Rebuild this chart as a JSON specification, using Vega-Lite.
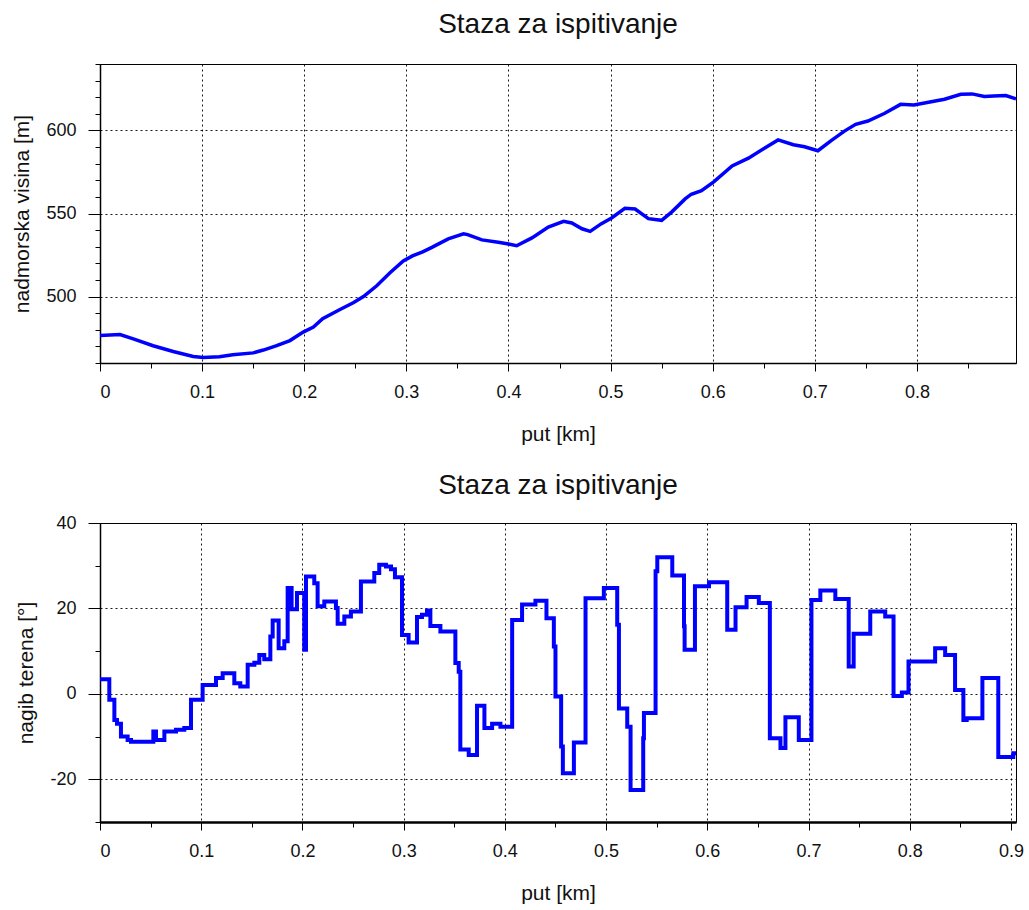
{
  "$schema": "https://vega.github.io/schema/vega-lite/v6.json",
  "background": "white",
  "padding": {"left": 10, "top": 10, "right": 5, "bottom": 5},
  "config": {
    "font": "Liberation Sans",
    "view": {"stroke": "#000", "strokeWidth": 1},
    "axis": {
      "labelFont": "Liberation Sans", "titleFont": "Liberation Sans",
      "labelColor": "#111", "titleColor": "#111",
      "labelFontSize": 18, "titleFontSize": 21, "titleFontWeight": "normal",
      "domainColor": "#000", "tickColor": "#000",
      "gridColor": "#000", "gridDash": [2, 3], "gridWidth": 1, "gridOpacity": 0.9
    },
    "title": {"font": "Liberation Sans", "fontSize": 28, "fontWeight": "normal", "color": "#111"},
    "concat": {"spacing": 26}
  },
  "datasets": {
    "elev": [
      {"km": 0, "h": 476.5}, {"km": 0.0196, "h": 477.1}, {"km": 0.0326, "h": 474.5}, {"km": 0.052, "h": 470.4},
      {"km": 0.0717, "h": 466.9}, {"km": 0.0913, "h": 463.9}, {"km": 0.101, "h": 463.3}, {"km": 0.117, "h": 463.7},
      {"km": 0.13, "h": 464.9}, {"km": 0.15, "h": 466.1}, {"km": 0.16, "h": 467.8}, {"km": 0.173, "h": 470.4},
      {"km": 0.186, "h": 473.5}, {"km": 0.199, "h": 478.6}, {"km": 0.209, "h": 481.6}, {"km": 0.218, "h": 486.7},
      {"km": 0.235, "h": 492.2}, {"km": 0.248, "h": 496.3}, {"km": 0.258, "h": 500}, {"km": 0.271, "h": 506.5},
      {"km": 0.284, "h": 514.3}, {"km": 0.297, "h": 521.5}, {"km": 0.306, "h": 524.5}, {"km": 0.316, "h": 526.9},
      {"km": 0.325, "h": 529.6}, {"km": 0.341, "h": 534.7}, {"km": 0.356, "h": 537.8}, {"km": 0.36, "h": 537.3},
      {"km": 0.374, "h": 534.1}, {"km": 0.39, "h": 532.7}, {"km": 0.4, "h": 531.6}, {"km": 0.408, "h": 530.6},
      {"km": 0.423, "h": 535.3}, {"km": 0.439, "h": 541.8}, {"km": 0.454, "h": 545.3}, {"km": 0.462, "h": 544.3},
      {"km": 0.472, "h": 540.8}, {"km": 0.48, "h": 539.2}, {"km": 0.491, "h": 543.9}, {"km": 0.501, "h": 547.3},
      {"km": 0.514, "h": 553.1}, {"km": 0.524, "h": 552.7}, {"km": 0.537, "h": 546.9}, {"km": 0.55, "h": 545.9},
      {"km": 0.56, "h": 551.0}, {"km": 0.573, "h": 558.8}, {"km": 0.579, "h": 561.6}, {"km": 0.589, "h": 563.7},
      {"km": 0.601, "h": 569.0}, {"km": 0.619, "h": 578.6}, {"km": 0.635, "h": 583.3}, {"km": 0.651, "h": 589.4},
      {"km": 0.664, "h": 594.3}, {"km": 0.679, "h": 591.4}, {"km": 0.69, "h": 590.2}, {"km": 0.703, "h": 587.8},
      {"km": 0.716, "h": 593.9}, {"km": 0.729, "h": 599.6}, {"km": 0.74, "h": 603.7}, {"km": 0.752, "h": 605.7},
      {"km": 0.768, "h": 610.2}, {"km": 0.784, "h": 615.7}, {"km": 0.797, "h": 615.3}, {"km": 0.814, "h": 617.3},
      {"km": 0.827, "h": 618.8}, {"km": 0.843, "h": 621.8}, {"km": 0.854, "h": 622.0}, {"km": 0.866, "h": 620.4},
      {"km": 0.875, "h": 620.8}, {"km": 0.887, "h": 621.0}, {"km": 0.897, "h": 619.0}
    ],
    "slope": [
      {"km": 0, "s": 3.4}, {"km": 0.0092, "s": -1.4}, {"km": 0.0142, "s": -6.1}, {"km": 0.0168, "s": -7.0},
      {"km": 0.0207, "s": -10.0}, {"km": 0.0273, "s": -10.8}, {"km": 0.0306, "s": -11.2}, {"km": 0.0527, "s": -8.8},
      {"km": 0.0553, "s": -10.8}, {"km": 0.0636, "s": -8.8}, {"km": 0.0751, "s": -8.4}, {"km": 0.0833, "s": -8.0},
      {"km": 0.0899, "s": -1.4}, {"km": 0.1014, "s": 2.1}, {"km": 0.1146, "s": 3.7}, {"km": 0.1212, "s": 4.8},
      {"km": 0.1327, "s": 2.5}, {"km": 0.1386, "s": 1.7}, {"km": 0.1459, "s": 6.8}, {"km": 0.1525, "s": 7.3},
      {"km": 0.1574, "s": 9.1}, {"km": 0.1623, "s": 8.1}, {"km": 0.1683, "s": 13.4}, {"km": 0.1706, "s": 17.2},
      {"km": 0.1765, "s": 10.7}, {"km": 0.1821, "s": 12.3}, {"km": 0.1854, "s": 24.8}, {"km": 0.1893, "s": 19.8},
      {"km": 0.1946, "s": 23.6}, {"km": 0.2018, "s": 10.3}, {"km": 0.2035, "s": 27.5}, {"km": 0.2117, "s": 25.9},
      {"km": 0.215, "s": 20.5}, {"km": 0.2216, "s": 21.6}, {"km": 0.2331, "s": 20.1}, {"km": 0.2348, "s": 16.4},
      {"km": 0.2414, "s": 18.1}, {"km": 0.2479, "s": 19.3}, {"km": 0.2578, "s": 26.3}, {"km": 0.271, "s": 28.3},
      {"km": 0.2759, "s": 30.2}, {"km": 0.2825, "s": 29.8}, {"km": 0.2875, "s": 29.2}, {"km": 0.2914, "s": 27.3},
      {"km": 0.2984, "s": 13.8}, {"km": 0.3049, "s": 12.0}, {"km": 0.3132, "s": 18.0}, {"km": 0.3181, "s": 18.5},
      {"km": 0.3231, "s": 19.5}, {"km": 0.3264, "s": 15.9}, {"km": 0.3363, "s": 14.6}, {"km": 0.3511, "s": 7.2},
      {"km": 0.3544, "s": 5.2}, {"km": 0.356, "s": -13.0}, {"km": 0.3643, "s": -14.3}, {"km": 0.3725, "s": -2.8},
      {"km": 0.3798, "s": -8.0}, {"km": 0.3874, "s": -7.0}, {"km": 0.3956, "s": -7.7}, {"km": 0.4072, "s": 17.3},
      {"km": 0.417, "s": 20.9}, {"km": 0.4302, "s": 21.8}, {"km": 0.4411, "s": 17.7}, {"km": 0.4484, "s": 11.1},
      {"km": 0.45, "s": -0.6}, {"km": 0.4556, "s": -12.3}, {"km": 0.4573, "s": -18.6}, {"km": 0.4682, "s": -11.4},
      {"km": 0.4797, "s": 22.4}, {"km": 0.4978, "s": 24.8}, {"km": 0.511, "s": 16.2}, {"km": 0.5127, "s": -3.4},
      {"km": 0.5209, "s": -7.7}, {"km": 0.5242, "s": -22.5}, {"km": 0.5367, "s": -10.4}, {"km": 0.5374, "s": -4.5},
      {"km": 0.5489, "s": 28.7}, {"km": 0.5506, "s": 32.0}, {"km": 0.5654, "s": 27.7}, {"km": 0.577, "s": 15.8},
      {"km": 0.5776, "s": 10.3}, {"km": 0.5878, "s": 25.2}, {"km": 0.6017, "s": 26.1}, {"km": 0.6197, "s": 15.0},
      {"km": 0.6279, "s": 20.3}, {"km": 0.6388, "s": 22.7}, {"km": 0.6509, "s": 21.3}, {"km": 0.6618, "s": -10.4},
      {"km": 0.6723, "s": -12.7}, {"km": 0.6772, "s": -5.5}, {"km": 0.6904, "s": -10.8}, {"km": 0.7029, "s": 22.0},
      {"km": 0.7117, "s": 24.2}, {"km": 0.7265, "s": 22.2}, {"km": 0.7397, "s": 6.4}, {"km": 0.7446, "s": 14.1},
      {"km": 0.761, "s": 19.3}, {"km": 0.7758, "s": 18.1}, {"km": 0.784, "s": -0.5}, {"km": 0.7922, "s": 0.3},
      {"km": 0.7988, "s": 7.6}, {"km": 0.8251, "s": 10.7}, {"km": 0.835, "s": 9.1}, {"km": 0.8448, "s": 0.9},
      {"km": 0.853, "s": -6.1}, {"km": 0.8563, "s": -5.7}, {"km": 0.8718, "s": 3.7}, {"km": 0.8875, "s": -14.8},
      {"km": 0.9023, "s": -13.9}, {"km": 0.905, "s": -13.9}
    ]
  },
  "vconcat": [
    {
      "title": {"text": "Staza za ispitivanje", "offset": 25},
      "width": 916,
      "height": 299,
      "data": {"name": "elev"},
      "layer": [
        {
          "mark": {"type": "line", "color": "#0000ff", "strokeWidth": 3.5},
          "encoding": {
            "x": {
              "field": "km", "type": "quantitative",
              "scale": {"domain": [0, 0.897], "nice": false, "zero": false},
              "axis": {"title": "put [km]", "values": [0, 0.1, 0.2, 0.3, 0.4, 0.5, 0.6, 0.7, 0.8],
                "tickSize": 8, "labelPadding": 12, "titlePadding": 22, "grid": true,
                "labelExpr": "'' + datum.value", "domainWidth": 1.5}
            },
            "y": {
              "field": "h", "type": "quantitative",
              "scale": {"domain": [460, 640], "nice": false, "zero": false},
              "axis": {"title": "nadmorska visina [m]", "values": [500, 550, 600],
                "tickSize": 12, "labelPadding": 12, "titlePadding": 13, "minExtent": 55, "maxExtent": 55,
                "grid": true, "labelExpr": "'' + datum.value", "domainWidth": 1.5}
            }
          }
        },
        {
          "mark": {"type": "point", "opacity": 0},
          "encoding": {
            "x": {
              "field": "km", "type": "quantitative",
              "axis": {"orient": "bottom", "title": null, "labels": false, "domain": false, "grid": false, "tickSize": 5,
                "values": [0.05, 0.15, 0.25, 0.35, 0.45, 0.55, 0.65, 0.75, 0.85]}
            },
            "y": {
              "field": "h", "type": "quantitative",
              "axis": {"orient": "left", "title": null, "labels": false, "domain": false, "grid": false, "tickSize": 5,
                "values": [460, 470, 480, 490, 510, 520, 530, 540, 560, 570, 580, 590, 610, 620, 630, 640]}
            }
          }
        }
      ],
      "resolve": {"axis": {"x": "independent", "y": "independent"}}
    },
    {
      "title": {"text": "Staza za ispitivanje", "offset": 14},
      "width": 916,
      "height": 299,
      "data": {"name": "slope"},
      "layer": [
        {
          "mark": {"type": "line", "color": "#0000ff", "strokeWidth": 4, "interpolate": "step-after"},
          "encoding": {
            "x": {
              "field": "km", "type": "quantitative",
              "scale": {"domain": [0, 0.905], "nice": false, "zero": false},
              "axis": {"title": "put [km]", "values": [0, 0.1, 0.2, 0.3, 0.4, 0.5, 0.6, 0.7, 0.8, 0.9],
                "tickSize": 8, "labelPadding": 12, "titlePadding": 22, "grid": true,
                "labelExpr": "'' + datum.value", "domainWidth": 2.5}
            },
            "y": {
              "field": "s", "type": "quantitative",
              "scale": {"domain": [-30, 40], "nice": false, "zero": false},
              "axis": {"title": "nagib terena [°]", "values": [-20, 0, 20, 40],
                "tickSize": 12, "labelPadding": 12, "titlePadding": 14, "minExtent": 50, "maxExtent": 50,
                "grid": true, "labelExpr": "'' + datum.value", "domainWidth": 1.5}
            }
          }
        },
        {
          "mark": {"type": "point", "opacity": 0},
          "encoding": {
            "x": {
              "field": "km", "type": "quantitative",
              "axis": {"orient": "bottom", "title": null, "labels": false, "domain": false, "grid": false, "tickSize": 5,
                "values": [0.05, 0.15, 0.25, 0.35, 0.45, 0.55, 0.65, 0.75, 0.85]}
            },
            "y": {
              "field": "s", "type": "quantitative",
              "axis": {"orient": "left", "title": null, "labels": false, "domain": false, "grid": false, "tickSize": 5,
                "values": [-30, -10, 10, 30]}
            }
          }
        }
      ],
      "resolve": {"axis": {"x": "independent", "y": "independent"}}
    }
  ]
}
